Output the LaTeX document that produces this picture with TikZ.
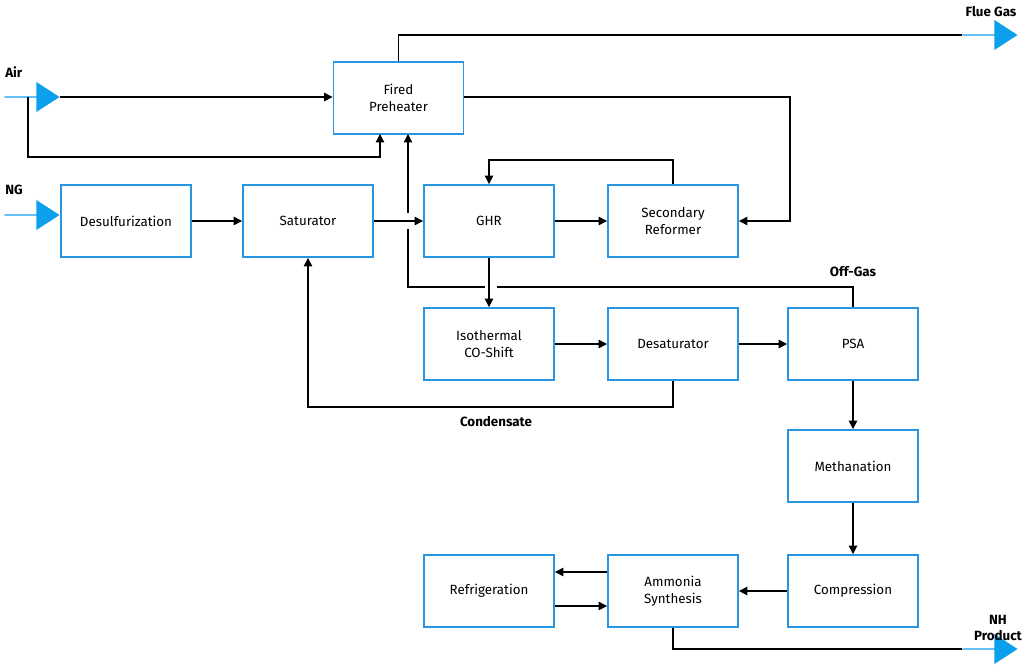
\documentclass[tikz,border=0pt]{standalone}
\usepackage{fontspec}
\setmainfont{Fira Sans}
\usetikzlibrary{positioning,calc,shapes.arrows,arrows.meta}
\usepackage{xcolor}
\definecolor{boxblue}{RGB}{40,150,225}
\definecolor{feedblue}{RGB}{10,160,235}
\tikzset{
unit/.style={
  rectangle,draw=boxblue,line width=1.3pt,
  minimum width=3.25cm,minimum height=1.8cm,
  align=center,font=\fontsize{9.5}{12}\selectfont
  },
feed/.style={
  single arrow,fill=feedblue,draw=none,inner sep=0pt,
  minimum width=0.75cm,minimum height=1.375cm,
  single arrow head extend=0.175cm,single arrow tip angle=66
  },
flow/.style={->,line width=0.9pt,>={Triangle[length=6pt,width=6pt]}},
line/.style={line width=0.9pt},
tag/.style={font=\bfseries\fontsize{9.5}{12}\selectfont,align=center,inner sep=0pt}
}

\begin{document}
\begin{tikzpicture}[x=0.025cm,y=-0.025cm]
    \useasboundingbox (0,0) rectangle (1036,664);
    % units
    \node [unit] (pre) at (398.5,98) {Fired\\Preheater};
    \node [unit] (desulf) at (126,221) {Desulfurization};
    \node [unit] (sat) at (308,221) {Saturator};
    \node [unit] (ghr) at (489,221) {GHR};
    \node [unit] (sec) at (673,221) {Secondary\\Reformer};
    \node [unit] (shift) at (489,344) {Isothermal\\CO-Shift};
    \node [unit] (desat) at (673,344) {Desaturator};
    \node [unit] (psa) at (853,344) {PSA};
    \node [unit] (meth) at (853,466) {Methanation};
    \node [unit] (comp) at (853,591) {Compression};
    \node [unit] (nh3) at (673,591) {Ammonia\\Synthesis};
    \node [unit] (refr) at (489,591) {Refrigeration};
    % feeds and products
    \node [feed,anchor=tip] (air) at (60,97) {};
    \node [feed,anchor=tip] (ng) at (60,215) {};
    \node [feed,anchor=tip] (flue) at (1018,35) {};
    \node [feed,anchor=tip] (prod) at (1018,649) {};
    \node [tag,anchor=west] (airlbl) at (5,72) {Air};
    \node [tag,anchor=west] (nglbl) at (5,190) {NG};
    \node [tag] (fluelbl) at (991,12) {Flue Gas};
    \node [tag] (prodlbl) at (998,628) {NH\\Product};
    \node [tag] (offlbl) at (853,272) {Off-Gas};
    \node [tag] (condlbl) at (496,422) {Condensate};
    \coordinate (airsplit) at (28,97);
    \coordinate (fgin) at (408,287);
    % connectors
    \draw [flow] (air.tip) -- (pre.west |- air.tip);
    \draw [flow] (airsplit) -- (28,157) -- (380,157) -- (380,134);
    \draw [line] (pre.north) -- (398.5,35) -- (flue.west |- 0,35);
    \draw [flow] (pre.east |- 0,97) -- (790,97) -- (790,221) -- (sec.east);
    \draw [flow] (sec.north) -- (673,160) -- (489,160) -- (ghr.north);
    \draw [flow] (desulf) -- (sat);
    \draw [flow] (sat) -- (ghr);
    \draw [flow] (ghr) -- (sec);
    \draw [flow] (ghr.south) -- (shift.north);
    \draw [flow] (shift) -- (desat);
    \draw [flow] (desat) -- (psa);
    \draw [flow] (psa) -- (meth);
    \draw [flow] (meth) -- (comp);
    \draw [flow] (comp) -- (nh3);
    \draw [flow] (nh3.west |- 0,572) -- (refr.east |- 0,572);
    \draw [flow] (refr.east |- 0,606) -- (nh3.west |- 0,606);
    \draw [flow] (desat.south) -- (673,407) -- (308,407) -- (sat.south);
    \draw [line] (nh3.south) -- (673,649) -- (prod.west |- 0,649);
    % off-gas to preheater, with crossing gaps
    \draw [line] (psa.north) -- (853,287) -- (497,287);
    \draw [line] (485,287) -- (fgin) -- (408,229);
    \draw [flow] (408,213) -- (408,134);
\end{tikzpicture}
\end{document}
